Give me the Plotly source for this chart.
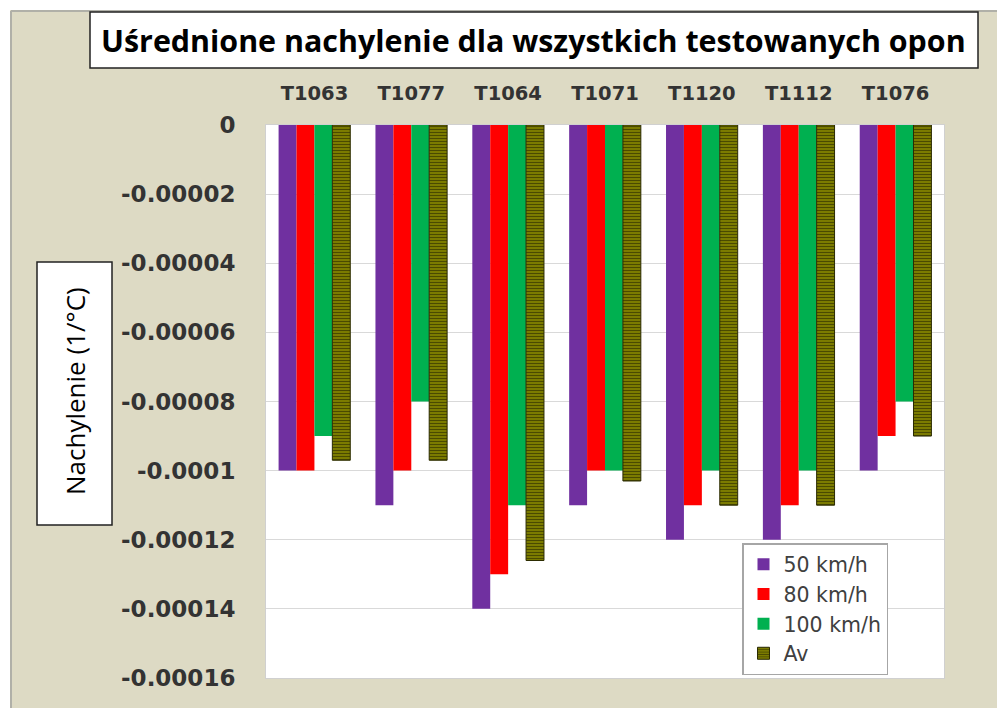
import plotly.graph_objects as go

categories = ["T1063", "T1077", "T1064", "T1071", "T1120", "T1112", "T1076"]
series_names = ["50 km/h", "80 km/h", "100 km/h", "Av"]
v50 = [-0.00010, -0.00011, -0.00014, -0.00011, -0.00012, -0.00012, -0.00010]
v80 = [-0.00010, -0.00010, -0.00013, -0.00010, -0.00011, -0.00011, -0.00009]
v100 = [-0.00009, -0.00008, -0.00011, -0.00010, -0.00010, -0.00010, -0.00008]
vav = [-0.000097, -0.000097, -0.000126, -0.000103, -0.00011, -0.00011, -0.00009]
tick_vals = [0, -0.00002, -0.00004, -0.00006, -0.00008, -0.0001, -0.00012, -0.00014, -0.00016]
tick_text = ["0", "-0.00002", "-0.00004", "-0.00006", "-0.00008", "-0.0001", "-0.00012", "-0.00014", "-0.00016"]

W, H = 997, 708
ML, MR, MT, MB = 266, 53, 125, 30
PW, PH = W - ML - MR, H - MT - MB


def px(x):
    return (x - ML) / PW


def py(y):
    return (H - MB - y) / PH


fig = go.Figure()
colors = ["#7030A0", "#FF0000", "#00B050", "#808000"]
for i, (name, vals, col) in enumerate(zip(series_names, [v50, v80, v100, vav], colors)):
    if name == "Av":
        marker = dict(color=col, line=dict(color="#2b2b00", width=1),
                      pattern=dict(shape="-", fgcolor="#4a4a00", bgcolor=col,
                                   size=3, solidity=0.4, fillmode="replace"))
    else:
        marker = dict(color=col, line=dict(width=0))
    fig.add_trace(go.Bar(x=categories, y=vals, name=name, marker=marker))

shapes = [
    # white strips at top/left of the image
    dict(type="rect", xref="paper", yref="paper", x0=px(0), x1=px(W), y0=py(10), y1=py(0),
         fillcolor="white", line=dict(width=0), layer="above"),
    dict(type="rect", xref="paper", yref="paper", x0=px(0), x1=px(10), y0=py(H), y1=py(0),
         fillcolor="white", line=dict(width=0), layer="above"),
    dict(type="line", xref="paper", yref="paper", x0=px(11), x1=px(W), y0=py(11), y1=py(11),
         line=dict(color="#b0b0a8", width=2)),
    dict(type="line", xref="paper", yref="paper", x0=px(11), x1=px(11), y0=py(H), y1=py(11),
         line=dict(color="#b0b0a8", width=2)),
    # title box
    dict(type="rect", xref="paper", yref="paper", x0=px(90), x1=px(978), y0=py(68), y1=py(12),
         fillcolor="white", line=dict(color="#222222", width=1.5)),
    # y title box
    dict(type="rect", xref="paper", yref="paper", x0=px(37), x1=px(112), y0=py(525), y1=py(262),
         fillcolor="white", line=dict(color="#222222", width=1.5)),
]

annotations = [
    dict(text="<b>Uśrednione nachylenie dla wszystkich testowanych opon</b>", xref="paper", yref="paper",
         x=px(533), y=py(40), xanchor="center", yanchor="middle", showarrow=False,
         font=dict(family="Open Sans", size=30.4, color="#000000")),
    dict(text="Nachylenie (1/°C)", xref="paper", yref="paper", textangle=-90,
         x=px(75), y=py(391), xanchor="center", yanchor="middle", showarrow=False,
         font=dict(family="Open Sans", size=26, color="#000000")),
]

fig.update_layout(
    width=W, height=H,
    margin=dict(l=ML, r=MR, t=MT, b=MB, autoexpand=False),
    paper_bgcolor="#DDDAC4",
    plot_bgcolor="white",
    barmode="group",
    bargap=0.26,
    bargroupgap=0,
    showlegend=True,
    legend=dict(x=px(742), y=py(543), xanchor="left", yanchor="top",
                bgcolor="white", bordercolor="#a6a6a6", borderwidth=1.5,
                font=dict(family="DejaVu Sans", size=20.5, color="#404040"),
                tracegroupgap=0, itemwidth=30),
    shapes=shapes,
    annotations=annotations,
    xaxis=dict(side="top", showgrid=False, ticks="", showline=True, linecolor="#d0d0d0",
               mirror=True, tickfont=dict(family="DejaVu Sans", size=19.5, color="#333333", weight="bold"),
               ticklabelstandoff=16, range=[-0.5, 6.5], fixedrange=True),
    yaxis=dict(range=[-0.00016, 0], tickvals=tick_vals, ticktext=tick_text,
               showgrid=True, gridcolor="#d9d9d9", gridwidth=1, zeroline=False,
               showline=True, linecolor="#d0d0d0", mirror=True, ticks="",
               tickfont=dict(family="DejaVu Sans", size=23, color="#333333", weight="bold"),
               ticklabelstandoff=25),
)

fig.write_html("out.html", config={"displayModeBar": False},
               post_script="document.body.style.margin='0';document.body.style.padding='0';")
